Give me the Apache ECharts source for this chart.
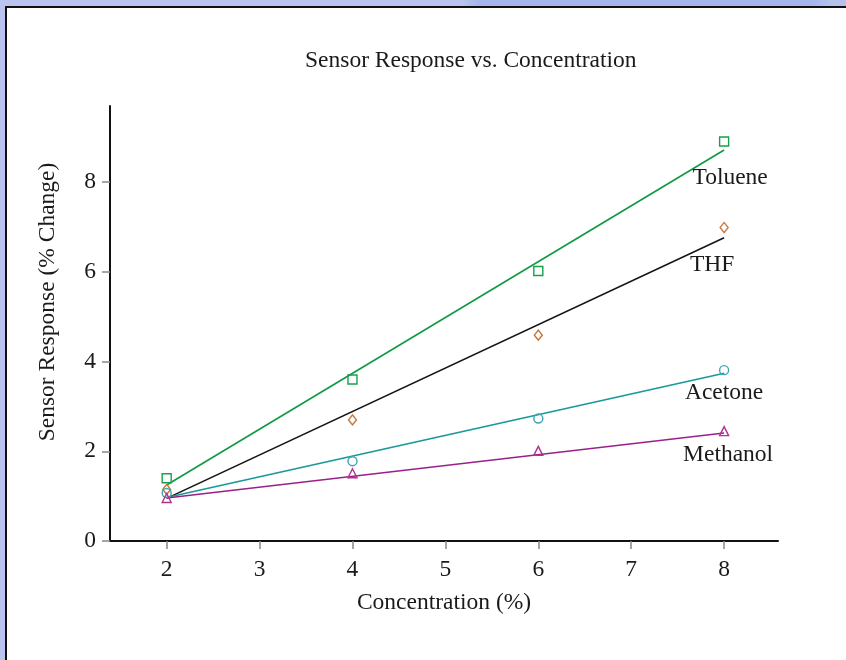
<!DOCTYPE html>
<html>
<head>
<meta charset="utf-8">
<title>Sensor Response vs. Concentration</title>
<script src="https://cdn.jsdelivr.net/npm/echarts@6/dist/echarts.min.js"></script>
<style>
  html, body { margin: 0; padding: 0; background: #ffffff; }
  body { width: 846px; height: 660px; overflow: hidden; position: relative; }
  #stripTop { position: absolute; left: 0; top: 0; width: 846px; height: 6px;
    background: linear-gradient(to right, #b9c5ef 0px, #b9c5ef 462px, #a4b6ec 478px, #a4b6ec 812px, #b5c2ee 830px, #b5c2ee 846px); }
  #stripLeft { position: absolute; left: 0; top: 0; width: 5px; height: 660px; background: #b9c5ef; }
  #frameTop { position: absolute; left: 5px; top: 6px; width: 841px; height: 2px; background: #111111; }
  #frameLeft { position: absolute; left: 5px; top: 6px; width: 2px; height: 654px; background: #111111; }
  #chart { position: absolute; left: 0; top: 0; width: 846px; height: 660px; }
</style>
</head>
<body>
<div id="stripTop"></div>
<div id="stripLeft"></div>
<div id="frameTop"></div>
<div id="frameLeft"></div>
<div id="chart"></div>
<script>
// Measured sensor responses (% change) at each concentration (%)
const concentration = [2, 4, 6, 8];
const toluene  = [1.40, 3.60, 6.02, 8.91];
const thf      = [1.15, 2.70, 4.59, 6.99];
const acetone  = [1.07, 1.78, 2.73, 3.81];
const methanol = [0.96, 1.51, 2.01, 2.45];

// Linear fit end points (at the first and last concentration)
const fitX        = [2, 8];
const tolueneFit  = [1.25, 8.72];
const thfFit      = [0.95, 6.76];
const acetoneFit  = [0.97, 3.74];
const methanolFit = [0.96, 2.41];

// Axis ticks
const xTicks = [2, 3, 4, 5, 6, 7, 8];
const yTicks = [0, 2, 4, 6, 8];

const solvents = ['Toluene', 'THF', 'Acetone', 'Methanol'];

const FONT = '"Liberation Serif", "Times New Roman", serif';
const FS = 23.5;
const TEXT = '#1a1a1a';

const styles = {
  Toluene:  { line: '#0e9a45', marker: '#17a04e', symbol: 'rect',     size: 9,  labelOffset: [6, 28] },
  THF:      { line: '#151515', marker: '#c9773a', symbol: 'diamond',  size: 10, labelOffset: [-12, 27] },
  Acetone:  { line: '#17999b', marker: '#3aa6b4', symbol: 'circle',   size: 9,  labelOffset: [0, 20] },
  Methanol: { line: '#9a2189', marker: '#b3308f', symbol: 'triangle', size: 9,  labelOffset: [4, 22] }
};

const measured = { Toluene: toluene, THF: thf, Acetone: acetone, Methanol: methanol };
const fits = { Toluene: tolueneFit, THF: thfFit, Acetone: acetoneFit, Methanol: methanolFit };

const series = [];
solvents.forEach(function (name) {
  const st = styles[name];
  // fitted trend line
  series.push({
    name: name + ' fit',
    type: 'line',
    data: fitX.map(function (x, i) { return [x, fits[name][i]]; }),
    symbol: 'none',
    lineStyle: { color: st.line, width: 1.6 },
    silent: true,
    animation: false,
    z: 2
  });
});
solvents.forEach(function (name) {
  const st = styles[name];
  // measured points as hollow markers
  series.push({
    name: name,
    type: 'scatter',
    data: concentration.map(function (x, i) { return [x, measured[name][i]]; }),
    symbol: st.symbol,
    symbolSize: st.symbol === 'diamond' ? [8, 10] : st.size,
    itemStyle: { color: 'rgba(255,255,255,0)', borderColor: st.marker, borderWidth: 1.4, opacity: 1 },
    animation: false,
    z: 3
  });
  // series name printed next to the end of its fitted line
  const last = fitX.length - 1;
  series.push({
    name: name + ' label',
    type: 'scatter',
    data: [[fitX[last], fits[name][last]]],
    symbolSize: 1,
    itemStyle: { color: 'rgba(0,0,0,0)', opacity: 1 },
    label: {
      show: true,
      position: 'inside',
      offset: st.labelOffset,
      formatter: name,
      color: TEXT,
      textBorderWidth: 0,
      textBorderColor: 'transparent',
      fontFamily: FONT,
      fontSize: FS
    },
    silent: true,
    animation: false,
    z: 4
  });
});

const chart = echarts.init(document.getElementById('chart'), null, { renderer: 'canvas' });
chart.setOption({
  backgroundColor: 'transparent',
  animation: false,
  title: {
    text: 'Sensor Response vs. Concentration',
    left: 305,
    top: 49,
    padding: 0,
    textStyle: { fontFamily: FONT, fontSize: FS, fontWeight: 'normal', color: TEXT }
  },
  grid: { left: 110, right: 68, top: 106, bottom: 119, containLabel: false },
  xAxis: {
    type: 'value',
    min: 1.39,
    max: 8.58,
    name: 'Concentration (%)',
    nameLocation: 'middle',
    nameGap: 50,
    nameTextStyle: { fontFamily: FONT, fontSize: FS, color: TEXT },
    axisLine: { show: true, onZero: false, lineStyle: { color: '#111111', width: 2 } },
    axisTick: { show: true, length: 8, customValues: xTicks, lineStyle: { color: '#888888', width: 1.5 } },
    axisLabel: { customValues: xTicks, margin: 17, fontFamily: FONT, fontSize: FS, color: TEXT },
    splitLine: { show: false }
  },
  yAxis: {
    type: 'value',
    min: 0,
    max: 9.7,
    name: 'Sensor Response (% Change)',
    nameLocation: 'middle',
    nameGap: 50,
    nameRotate: 90,
    nameTextStyle: { fontFamily: FONT, fontSize: FS, color: TEXT, padding: [0, 0, 0, 43] },
    axisLine: { show: true, onZero: false, lineStyle: { color: '#111111', width: 2 } },
    axisTick: { show: true, length: 8, customValues: yTicks, lineStyle: { color: '#888888', width: 1.5 } },
    axisLabel: { customValues: yTicks, margin: 14, fontFamily: FONT, fontSize: FS, color: TEXT },
    splitLine: { show: false }
  },
  series: series
});
</script>
</body>
</html>
